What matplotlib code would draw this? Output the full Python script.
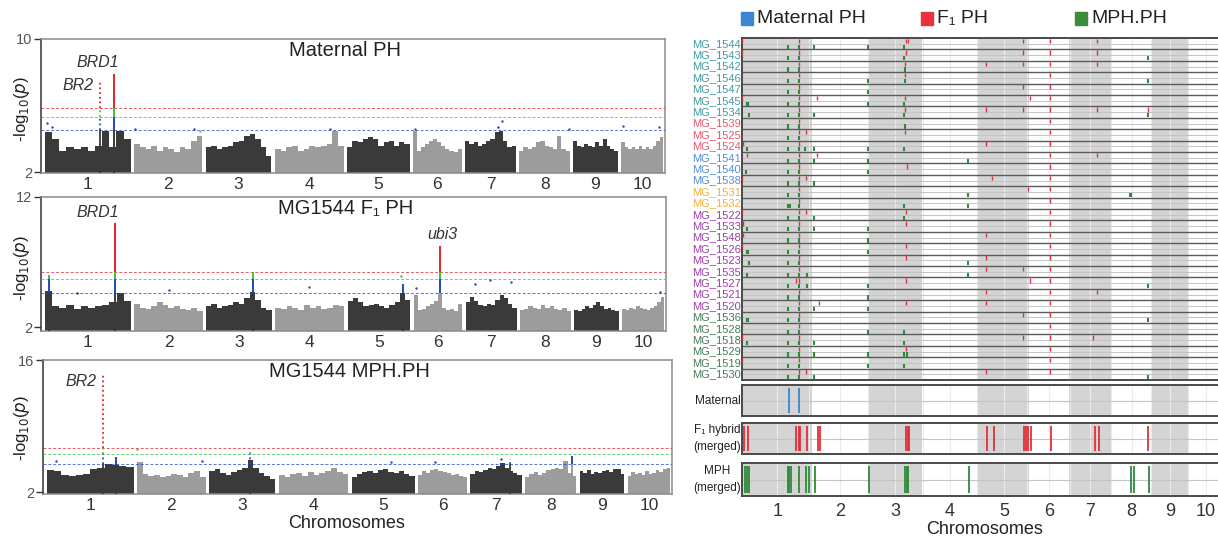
import matplotlib.pyplot as plt
from matplotlib.patches import Rectangle

plt.rcParams['font.family'] = ['Liberation Sans', 'DejaVu Sans']

W, H = 1218, 539

CHROMS = [str(i) for i in range(1, 11)]
CHROM_LEN = [307, 244, 235, 247, 223, 174, 182, 181, 159, 150]  # Mb
GAP = 12  # Mb between chromosomes on the Manhattan plots

# Manhattan plots: upper edge of the dense point cloud, 12 bins per chromosome (-log10 p)
MAT_ENV = [
    [4.4, 4.0, 3.3, 3.5, 3.4, 3.5, 3.3, 3.6, 4.5, 3.5, 4.5, 4.0],
    [3.7, 3.5, 3.4, 3.6, 3.3, 3.5, 3.4, 3.2, 3.5, 3.4, 3.9, 4.2],
    [3.5, 3.6, 3.4, 3.5, 3.6, 3.8, 3.9, 4.2, 4.3, 4.0, 3.5, 3.0],
    [3.4, 3.3, 3.5, 3.6, 3.3, 3.4, 3.6, 3.5, 3.6, 3.7, 4.5, 3.6],
    [3.5, 3.9, 3.8, 4.0, 4.1, 4.0, 3.6, 3.8, 3.9, 3.6, 3.8, 3.7],
    [4.5, 3.3, 3.5, 3.7, 3.9, 4.0, 3.8, 3.6, 3.4, 3.3, 3.2, 3.4],
    [3.9, 3.7, 3.8, 3.6, 3.7, 3.9, 4.0, 4.4, 4.5, 3.9, 3.5, 3.6],
    [3.3, 3.5, 3.4, 3.5, 3.8, 3.9, 3.6, 3.5, 3.4, 4.2, 3.4, 3.3],
    [3.9, 3.6, 3.5, 3.7, 3.6, 3.5, 3.8, 3.6, 4.0, 3.6, 3.4, 3.3],
    [3.8, 3.5, 3.4, 3.5, 3.4, 3.6, 3.4, 3.5, 3.4, 3.6, 3.9, 4.1],
]
F1_ENV = [
    [4.8, 3.6, 3.5, 3.7, 3.4, 3.6, 3.5, 3.6, 3.7, 3.9, 4.6, 4.0],
    [3.8, 3.5, 3.4, 3.6, 3.9, 3.7, 3.5, 3.6, 3.4, 3.3, 3.5, 3.2],
    [3.6, 3.8, 3.5, 3.6, 3.7, 3.9, 3.8, 4.2, 4.7, 4.1, 3.5, 3.3],
    [3.5, 3.4, 3.6, 3.5, 3.3, 3.7, 3.5, 3.6, 3.4, 3.5, 3.7, 3.6],
    [4.0, 4.2, 3.9, 3.6, 3.7, 3.8, 3.6, 3.5, 3.7, 3.9, 4.6, 4.1],
    [4.5, 3.3, 3.4, 3.6, 3.8, 4.0, 4.6, 3.5, 3.3, 3.4, 3.2, 3.8],
    [3.9, 4.3, 4.0, 3.7, 3.6, 3.8, 3.7, 4.1, 4.5, 4.2, 3.8, 3.5],
    [3.3, 3.4, 3.6, 3.5, 3.4, 3.7, 3.5, 3.6, 3.4, 3.3, 3.5, 3.2],
    [3.3, 3.2, 3.4, 3.6, 3.5, 3.7, 3.9, 3.6, 3.4, 3.5, 3.3, 3.2],
    [3.4, 3.3, 3.5, 3.4, 3.6, 3.5, 3.4, 3.3, 3.5, 3.6, 3.9, 4.3],
]
MPH_ENV = [
    [4.3, 4.2, 3.8, 3.7, 3.8, 3.9, 4.4, 4.6, 5.0, 4.9, 4.8, 4.7],
    [5.2, 3.9, 3.7, 3.8, 3.6, 3.7, 3.9, 3.8, 3.6, 4.0, 4.2, 3.6],
    [4.2, 4.4, 4.0, 3.8, 4.1, 4.3, 4.6, 5.4, 4.6, 4.0, 3.7, 3.4],
    [3.8, 3.6, 3.9, 4.0, 3.7, 4.1, 3.8, 4.0, 4.2, 4.6, 4.1, 3.9],
    [3.6, 3.9, 4.1, 4.2, 4.0, 4.3, 4.4, 4.1, 4.0, 4.2, 3.9, 3.7],
    [3.8, 4.2, 4.0, 4.3, 4.5, 4.2, 4.1, 4.0, 3.8, 3.9, 3.7, 3.6],
    [3.9, 4.2, 4.1, 4.3, 4.6, 4.4, 4.8, 5.1, 4.6, 4.2, 4.0, 3.8],
    [3.6, 3.9, 4.1, 3.8, 4.0, 4.3, 4.5, 4.6, 4.4, 5.3, 4.0, 3.7],
    [4.2, 4.0, 4.3, 3.9, 4.1, 4.0, 4.2, 4.3, 4.1, 4.4, 4.5, 3.9],
    [3.7, 4.1, 3.9, 4.0, 3.8, 4.2, 3.9, 4.0, 4.3, 4.1, 4.4, 4.6],
]

# significance lines (blue, green, red)
MAT_THR = (4.51, 5.30, 5.88)
F1_THR = (4.64, 5.67, 6.25)
MPH_THR = (4.97, 6.03, 6.63)

# peak columns: (chromosome, Mb, top -log10 p, dotted)
MAT_PEAKS = [(1, 196, 7.4, True), (1, 246, 7.9, False)]
F1_PEAKS = [(1, 14, 6.0, False), (1, 250, 10.0, False), (3, 168, 6.25, False),
            (5, 196, 5.3, False), (6, 96, 8.2, False)]
MPH_PEAKS = [(1, 200, 14.6, True), (1, 246, 5.7, False), (3, 146, 6.2, True),
             (7, 140, 5.5, True), (8, 168, 5.8, False)]

# isolated points above the cloud: (chromosome, Mb, -log10 p)
MAT_POINTS = [(1, 7, 4.97), (1, 25, 4.7), (2, 4, 4.57), (2, 214, 4.6), (2, 236, 4.45),
              (4, 196, 4.6), (6, 7, 4.57), (7, 132, 5.06), (7, 118, 4.7), (8, 179, 4.6),
              (10, 7, 4.8), (10, 136, 4.7)]
F1_POINTS = [(1, 114, 4.6), (2, 125, 4.85), (4, 121, 5.1), (5, 190, 5.9), (6, 7, 5.0),
             (7, 32, 5.3), (7, 86, 5.6), (7, 160, 5.5), (10, 135, 4.7)]
MPH_POINTS = [(1, 32, 5.3), (2, 2, 6.6), (2, 232, 5.3), (5, 140, 5.2), (6, 60, 5.2),
              (7, 110, 5.5)]

MAT_LABELS = [("BRD1", 1, 189, 8.57), ("BR2", 1, 118, 7.2)]
F1_LABELS = [("BRD1", 1, 189, 10.8), ("ubi3", 6, 104, 9.15)]
MPH_LABELS = [("BR2", 1, 121, 13.7)]

# right panel: per-line significant loci, genome-wide Mb (chromosomes laid end to end)
LINES = ["MG_1544", "MG_1543", "MG_1542", "MG_1546", "MG_1547", "MG_1545", "MG_1534",
         "MG_1539", "MG_1525", "MG_1524", "MG_1541", "MG_1540", "MG_1538", "MG_1531",
         "MG_1532", "MG_1522", "MG_1533", "MG_1548", "MG_1526", "MG_1523", "MG_1535",
         "MG_1527", "MG_1521", "MG_1520", "MG_1536", "MG_1528", "MG_1518", "MG_1529",
         "MG_1519", "MG_1530"]
LINE_GROUP = [0] * 7 + [1] * 3 + [2] * 3 + [3] * 2 + [4] * 9 + [5] * 6
GROUP_COLORS = ["#3f9aa0", "#e8566a", "#4f8fd0", "#f2b13c", "#9b3fa6", "#467a5c"]

F1_HITS = [
    [1, 249, 718, 724, 1230, 1348, 1551],
    [1, 249, 718, 1230, 1348, 1551],
    [249, 714, 1067, 1230, 1348, 1551],
    [249, 714, 1348],
    [249, 1230, 1348],
    [1, 249, 328, 714, 1260, 1348],
    [249, 714, 1067, 1230, 1348, 1551, 1773],
    [249, 1348],
    [249, 278, 714, 1348],
    [6, 249, 1067, 1348],
    [24, 249, 328, 1348, 1551],
    [249, 721, 1348],
    [1, 249, 278, 1093, 1348],
    [249, 1248, 1348],
    [249, 1348],
    [1, 249, 278, 718, 1348],
    [6, 249, 715, 1348],
    [6, 249, 1067, 1348],
    [1, 249, 715, 1348],
    [249, 715, 1067, 1348],
    [249, 1067, 1230, 1348],
    [235, 249, 715, 1260, 1348],
    [249, 1067, 1348, 1551],
    [249, 335, 718, 1067, 1348],
    [249, 1230, 1348],
    [249, 1348],
    [1, 249, 1230, 1348, 1536],
    [249, 718, 1348],
    [1, 249, 1348],
    [249, 278, 1067, 1348],
]
MPH_HITS = [
    [199, 249, 316, 552, 707],
    [199, 249, 707, 1773],
    [199, 249, 714],
    [199, 249, 552, 714, 1773],
    [199, 249, 552],
    [20, 27, 199, 249, 552, 707],
    [30, 199, 249, 316, 707, 1773],
    [199, 249, 714],
    [199, 249],
    [20, 199, 249, 275, 316, 552, 707],
    [199, 249, 316, 552, 988],
    [16, 199, 249, 552],
    [199, 249, 316],
    [199, 249, 988, 1694, 1700],
    [199, 210, 249, 707, 988],
    [199, 249, 316, 707],
    [20, 199, 249, 316, 552],
    [199, 249, 552],
    [20, 27, 199, 249, 552],
    [30, 199, 249, 988],
    [20, 199, 249, 285, 988],
    [199, 249, 285, 552, 1773],
    [199, 249, 552],
    [199, 249, 316, 552],
    [20, 27, 199, 249, 1773],
    [199, 249, 552, 707],
    [20, 199, 249, 316, 707],
    [199, 249, 316, 552, 707, 721],
    [199, 249, 552, 707],
    [199, 249, 316, 1773],
]
MATERNAL_MERGED = [204, 251]
F1_MERGED = [7, 27, 236, 247, 254, 284, 333, 340, 717, 724, 731, 1071, 1101, 1234, 1241,
             1249, 1261, 1352, 1544, 1562, 1773]
MPH_MERGED = [15, 22, 30, 200, 207, 214, 251, 281, 291, 321, 557, 712, 720, 727, 994,
              1700, 1714, 1778]

BLUE, GREEN, RED = "#2a44c0", "#3fbf3f", "#e4202a"
DARK, LIGHT = "#3a3a3a", "#9c9c9c"
RIGHT_EDGE = 1223  # px, right end of the chromosome tracks


def px_axes(fig, left, right, top, bottom):
    return fig.add_axes([left / W, 1 - bottom / H, (right - left) / W, (bottom - top) / H])


def offsets(gap):
    starts, pos = [], 0
    for length in CHROM_LEN:
        starts.append(pos)
        pos += length + gap
    return starts


def level_color(value, thr, base):
    if value >= thr[2]:
        return RED
    if value >= thr[1]:
        return GREEN
    if value >= thr[0]:
        return BLUE
    return base


def manhattan(fig, box, ylim, env, thr, peaks, points, labels, title, ytop, tick_pad):
    ax = px_axes(fig, *box)
    starts = offsets(GAP)
    lo = ylim[0]
    for c, (start, length) in enumerate(zip(starts, CHROM_LEN)):
        col = DARK if c % 2 == 0 else LIGHT
        n = len(env[c])
        width = length / n
        centers = [start + (i + 0.5) * width for i in range(n)]
        ax.bar(centers, [h - lo for h in env[c]], bottom=lo, width=width, color=col,
               linewidth=0, zorder=2)
    for c, mb, top, dotted in peaks:
        x = starts[c - 1] + mb
        base = DARK if (c - 1) % 2 == 0 else LIGHT
        levels = [lo, thr[0], thr[1], thr[2], top]
        cols = [base, BLUE, GREEN, RED]
        for i in range(4):
            a, b = levels[i], min(levels[i + 1], top)
            if b <= a:
                break
            ls = (0, (1, 1.6)) if dotted and i > 0 else "-"
            ax.plot([x, x], [a, b], color=cols[i], lw=1.4 if not dotted else 1.3,
                    ls=ls, solid_capstyle="butt", zorder=4)
    for c, mb, v in points:
        base = DARK if (c - 1) % 2 == 0 else LIGHT
        ax.scatter(starts[c - 1] + mb, v, s=3, color=level_color(v, thr, base),
                   linewidths=0, zorder=4)
    for y, col in zip(thr, [BLUE, GREEN, RED]):
        ax.axhline(y, color=col, lw=0.7, ls=(0, (3, 2)), alpha=0.75, zorder=3)
    for text, c, mb, v in labels:
        ax.text(starts[c - 1] + mb, v, text, style="italic", fontsize=11.5,
                ha="center", va="center", color="#333333", zorder=5)
    ax.text(0.487, 0.915, title, transform=ax.transAxes, fontsize=14.5, ha="center",
            va="center", color="#222222")
    ax.set_xlim(-14, sum(CHROM_LEN) + 9 * GAP + 7)
    ax.set_ylim(*ylim)
    centers = [s + l / 2 for s, l in zip(starts, CHROM_LEN)]
    ax.set_xticks(centers, CHROMS, fontsize=12.5, color="#333333")
    ax.tick_params(axis="x", length=0, pad=tick_pad)
    ax.set_yticks([2, ytop], ["2", str(ytop)], fontsize=10.5, color="#555555")
    ax.tick_params(axis="y", length=5, width=1, color="#333333", pad=1.5)
    for name, spine in ax.spines.items():
        spine.set_color("#333333" if name == "left" else "#8a8a8a")
        spine.set_linewidth(1.1)
    return ax


def band_axes(ax, total):
    start = 0
    for c, length in enumerate(CHROM_LEN):
        if c % 2 == 0:
            ax.axvspan(start, start + length, color="#d4d4d4", lw=0, zorder=0)
        start += length
    starts = offsets(0)
    centers = [s + l / 2 for s, l in zip(starts, CHROM_LEN)]
    mids = [(a + b) / 2 for a, b in zip(centers[:-1], centers[1:])]
    for x in centers + mids:
        ax.axvline(x, color="#ececec", lw=0.8, zorder=1)
    ax.set_xlim(0, total)
    for spine in ax.spines.values():
        spine.set_color("#4a4a4a")
        spine.set_linewidth(1.4)
    return centers


fig = plt.figure(figsize=(W / 100, H / 100), dpi=100)

manhattan(fig, (41, 665, 39, 173), (1.95, 10), MAT_ENV, MAT_THR, MAT_PEAKS, MAT_POINTS,
          MAT_LABELS, "Maternal PH", 10, 3)
manhattan(fig, (41, 666, 197, 331), (1.7, 12), F1_ENV, F1_THR, F1_PEAKS, F1_POINTS,
          F1_LABELS, "MG1544 F\u2081 PH", 12, 3)
manhattan(fig, (43, 672, 360, 494), (1.8, 16), MPH_ENV, MPH_THR, MPH_PEAKS, MPH_POINTS,
          MPH_LABELS, "MG1544 MPH.PH", 16, 3)

ylab = r"-log$_{10}$($\it{p}$)"
for yc in (109, 268, 428):
    fig.text(22 / W, 1 - yc / H, ylab, rotation=90, fontsize=12, ha="center",
             va="center", color="#222222")
fig.text(347 / W, 1 - 524 / H, "Chromosomes", fontsize=13, ha="center", va="center",
         color="#222222")

# right panel
total = sum(CHROM_LEN)
rows = px_axes(fig, 742, RIGHT_EDGE, 38, 380)
band_axes(rows, total)
n = len(LINES)
rows.set_ylim(0, n)
for i in range(n):
    y0 = n - i - 1
    rows.axhline(y0 + 0.5, color="#c4c4c4", lw=0.7, zorder=1.5)
    if i < n - 1:
        rows.axhline(y0, color="#5a5a5a", lw=1.0, zorder=2)
    rows.vlines(F1_HITS[i], y0 + 0.55, y0 + 0.93, color="#e0303a", lw=1.0, zorder=3)
    rows.vlines(MPH_HITS[i], y0 + 0.05, y0 + 0.42, color="#2f8a3c", lw=1.5, zorder=3)
    rows.text(-4, y0 + 0.5, LINES[i], fontsize=8, ha="right", va="center",
              color=GROUP_COLORS[LINE_GROUP[i]])
rows.set_xticks([])
rows.set_yticks([])

tracks = [
    ((385, 416), "Maternal", MATERNAL_MERGED, "#3a86d0"),
    ((423, 454), "F\u2081 hybrid\n(merged)", F1_MERGED, "#e0303a"),
    ((463, 496), "MPH\n(merged)", MPH_MERGED, "#2f8a3c"),
]
for (top, bottom), label, hits, col in tracks:
    ax = px_axes(fig, 742, RIGHT_EDGE, top, bottom)
    centers = band_axes(ax, total)
    ax.set_ylim(0, 1)
    ax.axhline(0.5, color="#c4c4c4", lw=0.8, zorder=1.5)
    ax.vlines(hits, 0.1, 0.9, color=col, lw=1.3, zorder=3)
    ax.set_yticks([])
    ax.text(-4, 0.5, label, fontsize=8.5, ha="right", va="center", ma="center",
            color="#222222", linespacing=1.5)
    if bottom == 496:
        ax.set_xticks(centers, CHROMS, fontsize=13, color="#333333")
        ax.tick_params(axis="x", length=0, pad=5)
    else:
        ax.set_xticks([])

fig.text(985 / W, 1 - 530 / H, "Chromosomes", fontsize=13, ha="center", va="center",
         color="#222222")

# legend
for x0, col, text in [(741, "#3a86d0", "Maternal PH"), (921, "#e8323c", "F\u2081 PH"),
                      (1075, "#3c8c3c", "MPH.PH")]:
    fig.patches.append(Rectangle((x0 / W, 1 - 25 / H), 12 / W, 13 / H, color=col,
                                 transform=fig.transFigure))
    fig.text((x0 + 16) / W, 1 - 18.5 / H, text, fontsize=14, ha="left", va="center",
             color="#222222")

fig.savefig("out.png", dpi=100)
